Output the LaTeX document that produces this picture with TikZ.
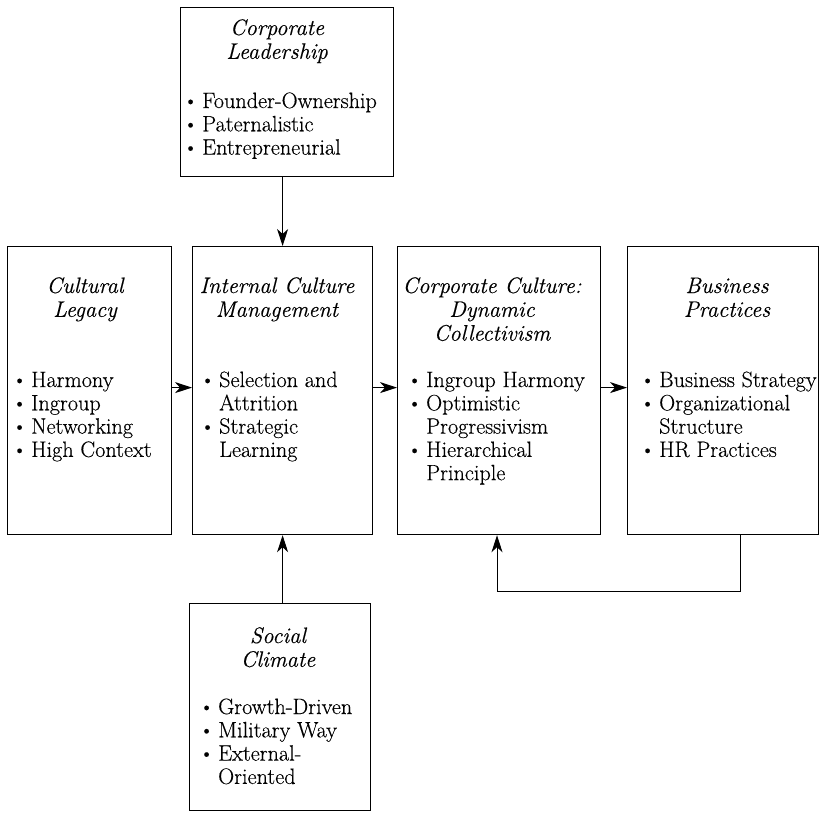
\documentclass[tikz,border=0pt]{standalone}
\usepackage{fontspec}
\setmainfont{Latin Modern Roman}[FakeBold=0.35]
\usetikzlibrary{arrows.meta}
\newcommand\bdot{\raisebox{0.6pt}{\fontsize{20.5}{20}\selectfont\textbullet}}
\newcommand\bl[1]{\makebox[16pt][l]{\hspace*{-3pt}\bdot}#1}
\newcommand\cl[1]{\hspace*{16pt}#1}
\newcommand\tl[1]{\begin{tabular}[t]{@{}l@{}}#1\end{tabular}}
\newcommand\tc[1]{\begin{tabular}[t]{@{}c@{}}#1\end{tabular}}
\begin{document}
\begin{tikzpicture}[x=1pt,y=-1pt,
  box/.style={draw,line width=1.2pt,inner sep=0pt,anchor=north west},
  arr/.style={-{Stealth[length=17pt,width=11pt,inset=5pt]},line width=1pt},
  lbl/.style={inner sep=0pt,anchor=base west,font=\fontsize{22.2}{23.3}\selectfont},
  ttl/.style={inner sep=0pt,anchor=base,font=\fontsize{22.4}{23.8}\selectfont\itshape}]
\useasboundingbox (0,0) rectangle (819,812);
% boxes
\node[box,minimum width=213pt,minimum height=169pt] (lead) at (180,7) {};
\node[box,minimum width=164pt,minimum height=288pt] (cl) at (7,246) {};
\node[box,minimum width=180pt,minimum height=288pt] (icm) at (192,246) {};
\node[box,minimum width=203pt,minimum height=288pt] (cc) at (397,246) {};
\node[box,minimum width=191pt,minimum height=288pt] (bp) at (627,246) {};
\node[box,minimum width=181pt,minimum height=207pt] (soc) at (189,603) {};
% titles
\node[ttl] (tlead) at (277,35) {\tc{Corporate\\Leadership}};
\node[ttl] (tcl) at (85,293) {\tc{Cultural\\Legacy}};
\node[ttl] (ticm) at (277,293) {\tc{Internal Culture\\Management}};
\node[ttl] (tcc) at (492,293) {\tc{Corporate Culture:\\Dynamic\\Collectivism}};
\node[ttl] (tbp) at (727,293) {\tc{Business\\Practices}};
\node[ttl] (tsoc) at (278,643) {\tc{Social\\Climate}};
% bullets
\node[lbl] (blead) at (186,108) {\tl{\bl{Founder-Ownership}\\\bl{Paternalistic}\\\bl{Entrepreneurial}}};
\node[lbl] (bcl) at (15,387) {\tl{\bl{Harmony}\\\bl{Ingroup}\\\bl{Networking}\\\bl{High Context}}};
\node[lbl] (bicm) at (203,387) {\tl{\bl{Selection and}\\\cl{Attrition}\\\bl{Strategic}\\\cl{Learning}}};
\node[lbl] (bcc) at (410,387) {\tl{\bl{Ingroup Harmony}\\\bl{Optimistic}\\\cl{Progressivism}\\\bl{Hierarchical}\\\cl{Principle}}};
\node[lbl] (bbp) at (643,387) {\tl{\bl{Business Strategy}\\\bl{Organizational}\\\cl{Structure}\\\bl{HR Practices}}};
\node[lbl] (bsoc) at (202,714) {\tl{\bl{Growth-Driven}\\\bl{Military Way}\\\bl{External-}\\\cl{Oriented}}};
% connectors
\draw[arr] (lead.south -| icm.north) -- (icm.north);
\draw[arr] (soc.north -| icm.south) -- (icm.south);
\draw[arr] ([yshift=3pt]cl.east) -- ([yshift=3pt]icm.west);
\draw[arr] ([yshift=3pt]icm.east) -- ([yshift=3pt]cc.west);
\draw[arr] ([yshift=3pt]cc.east) -- ([yshift=3pt]bp.west);
\coordinate (fbr) at (740,591);
\coordinate (fbl) at (497,591);
\draw[arr] (bp.south -| fbr) -- (fbr) -- (fbl) -- (cc.south -| fbl);
\end{tikzpicture}
\end{document}
